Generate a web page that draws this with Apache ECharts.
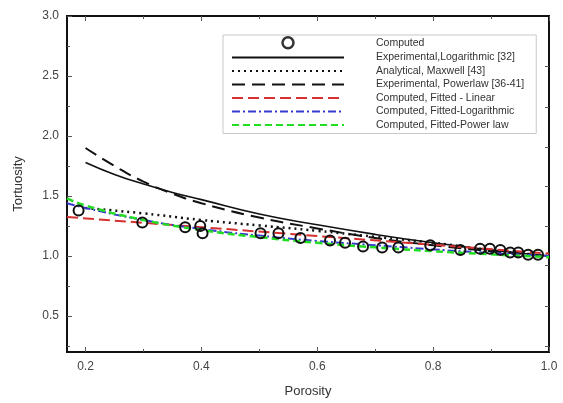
<!DOCTYPE html>
<html>
<head>
<meta charset="utf-8">
<script src="https://cdn.jsdelivr.net/npm/echarts@6/dist/echarts.min.js"></script>
<style>
  html, body { margin: 0; padding: 0; background: #fff; }
  #main { width: 563px; height: 403px; }
</style>
</head>
<body>
<div id="main"></div>
<script>
var chartDom = document.getElementById('main');
var myChart = echarts.init(chartDom);
var option;

// Computed points [porosity, tortuosity]
var computed = [
  [0.188, 1.38], [0.298, 1.28], [0.372, 1.24], [0.398, 1.25], [0.402, 1.19],
  [0.502, 1.19], [0.533, 1.19], [0.571, 1.15], [0.622, 1.13], [0.648, 1.11],
  [0.679, 1.08], [0.712, 1.07], [0.740, 1.07], [0.795, 1.09], [0.847, 1.05],
  [0.881, 1.06], [0.898, 1.06], [0.916, 1.05], [0.933, 1.03], [0.947, 1.03],
  [0.964, 1.01], [0.981, 1.01]
];
var expLog = [
  [0.2, 1.78], [0.25, 1.68], [0.3, 1.60], [0.35, 1.53], [0.4, 1.47], [0.5, 1.35],
  [0.6, 1.26], [0.7, 1.18], [0.8, 1.11], [0.9, 1.05], [1.0, 1.0]
];
var maxwell = [
  [0.2, 1.40], [0.3, 1.355], [0.4, 1.30], [0.5, 1.255], [0.6, 1.21],
  [0.7, 1.16], [0.8, 1.11], [0.9, 1.05], [1.0, 1.0]
];
var expPower = [
  [0.2, 1.90], [0.25, 1.75], [0.3, 1.62], [0.35, 1.52], [0.4, 1.44], [0.5, 1.32],
  [0.6, 1.23], [0.7, 1.15], [0.8, 1.09], [0.9, 1.04], [1.0, 1.0]
];
var fitLinear = [[0.168, 1.325], [1.0, 1.02]];
var fitLog = [
  [0.168, 1.44], [0.2, 1.40], [0.3, 1.30], [0.4, 1.225], [0.5, 1.17],
  [0.6, 1.125], [0.7, 1.09], [0.8, 1.055], [0.9, 1.025], [1.0, 1.0]
];
var fitPower = [
  [0.168, 1.48], [0.2, 1.42], [0.3, 1.30], [0.4, 1.217], [0.5, 1.157],
  [0.6, 1.11], [0.7, 1.072], [0.8, 1.04], [0.9, 1.014], [1.0, 0.99]
];

var xMajor = [0.2, 0.4, 0.6, 0.8, 1.0];
var xMinor = [0.3, 0.5, 0.7, 0.9];
var yMajor = [0.5, 1.0, 1.5, 2.0, 2.5, 3.0];
var yMinor = [0.25, 0.75, 1.25, 1.75, 2.25, 2.75];
var yRight = [0.25, 0.58, 0.92, 1.25, 1.58, 1.91, 2.24, 2.58];

var xMin = 0.168, xMax = 1.0, yMin = 0.2, yMax = 3.0;
var fontFamily = 'Liberation Sans, Arial, sans-serif';

function xAxisDef(pos, ticks, len, labels, name) {
  return {
    type: 'value', position: pos, min: xMin, max: xMax,
    name: name || '', nameLocation: 'middle', nameGap: 33,
    nameTextStyle: { fontSize: 13, color: '#333', fontFamily: fontFamily },
    axisLine: { show: true, onZero: false, lineStyle: { color: '#111', width: 2 } },
    axisTick: { show: true, inside: true, length: len, customValues: ticks, lineStyle: { color: '#555' } },
    axisLabel: labels ? { show: true, customValues: xMajor, margin: 9, fontSize: 12, color: '#444', fontFamily: fontFamily,
      formatter: function (v) { return v.toFixed(1); } } : { show: false },
    splitLine: { show: false }
  };
}
function yAxisDef(pos, ticks, len, labels, name) {
  return {
    type: 'value', position: pos, min: yMin, max: yMax,
    name: name || '', nameLocation: 'middle', nameGap: 42,
    nameTextStyle: { fontSize: 13, color: '#333', fontFamily: fontFamily },
    axisLine: { show: true, onZero: false, lineStyle: { color: '#111', width: 2 } },
    axisTick: { show: true, inside: true, length: len, customValues: ticks, lineStyle: { color: '#555' } },
    axisLabel: labels ? { show: true, customValues: yMajor, margin: 8, fontSize: 12, color: '#444', fontFamily: fontFamily,
      formatter: function (v) { return v.toFixed(1); } } : { show: false },
    splitLine: { show: false }
  };
}

option = {
  animation: false,
  backgroundColor: '#fff',
  grid: { left: 67, right: 14, top: 16, bottom: 50 },
  xAxis: [
    xAxisDef('bottom', xMajor, 5, true, 'Porosity'),
    xAxisDef('bottom', xMinor, 3, false),
    xAxisDef('top', xMajor, 5, false),
    xAxisDef('top', xMinor, 3, false)
  ],
  yAxis: [
    yAxisDef('left', yMajor, 5, true, 'Tortuosity'),
    yAxisDef('left', yMinor, 3, false),
    yAxisDef('right', yRight, 4, false)
  ],
  legend: {
    orient: 'vertical',
    left: 223, top: 35,
    padding: [1, 12, 3, 8],
    itemWidth: 112, itemHeight: 11, itemGap: 2.5,
    borderColor: '#c8c8c8', borderWidth: 1,
    itemStyle: { opacity: 0 },
    lineStyle: { width: 2 },
    textStyle: { fontSize: 10.5, lineHeight: 11, color: '#333', fontFamily: fontFamily, padding: [0, 0, 0, 27] },
    data: [
      { name: 'Computed', itemStyle: { opacity: 1, color: 'transparent', borderColor: '#333', borderWidth: 2.5 } },
      'Experimental,Logarithmic [32]', 'Analytical, Maxwell [43]',
      'Experimental, Powerlaw [36-41]', 'Computed, Fitted - Linear',
      'Computed, Fitted-Logarithmic', 'Computed, Fitted-Power law'
    ]
  },
  series: [
    {
      name: 'Experimental,Logarithmic [32]', type: 'line', data: expLog, smooth: true,
      symbol: 'none', color: '#111', lineStyle: { color: '#111', width: 1.6, type: 'solid' }
    },
    {
      name: 'Analytical, Maxwell [43]', type: 'line', data: maxwell, smooth: true,
      symbol: 'none', color: '#111', lineStyle: { color: '#111', width: 2.5, type: [2, 4] }
    },
    {
      name: 'Experimental, Powerlaw [36-41]', type: 'line', data: expPower, smooth: true,
      symbol: 'none', color: '#111', lineStyle: { color: '#111', width: 2, type: [13, 7] }
    },
    {
      name: 'Computed, Fitted - Linear', type: 'line', data: fitLinear,
      symbol: 'none', color: '#d63030', lineStyle: { color: '#d63030', width: 2, type: [11, 5] }
    },
    {
      name: 'Computed, Fitted-Logarithmic', type: 'line', data: fitLog, smooth: true,
      symbol: 'none', color: '#3a3ad0', lineStyle: { color: '#3a3ad0', width: 2, type: [8, 3, 2, 3] }
    },
    {
      name: 'Computed, Fitted-Power law', type: 'line', data: fitPower, smooth: true,
      symbol: 'none', color: '#22dd22', lineStyle: { color: '#22dd22', width: 2.5, type: [7, 4] }
    },
    {
      name: 'Computed', type: 'scatter', data: computed,
      symbol: 'circle', symbolSize: 10, symbolKeepAspect: true, color: '#111',
      itemStyle: { color: 'transparent', borderColor: '#111', borderWidth: 2, opacity: 1 },
      z: 5
    }
  ]
};

option && myChart.setOption(option);
</script>
</body>
</html>
